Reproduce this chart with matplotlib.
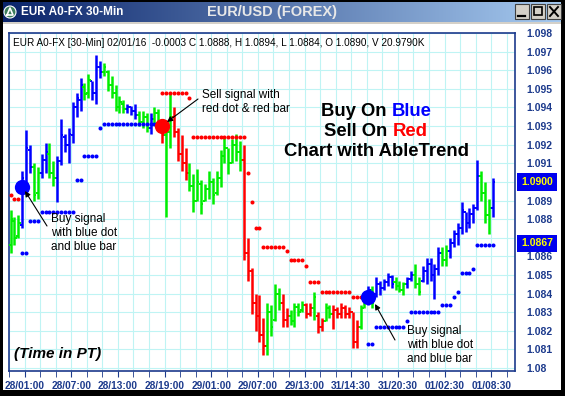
import matplotlib
matplotlib.use("Agg")
import matplotlib.pyplot as plt
import numpy as np
from matplotlib.patches import Rectangle, Circle
from matplotlib.colors import LinearSegmentedColormap
from matplotlib.transforms import blended_transform_factory

plt.rcParams['font.family'] = ['Liberation Sans', 'DejaVu Sans']

# ---- data (30-min EUR/USD bars) ----
# trend colour of each bar: g = green, b = blue, r = red
trend = ("gggbbbggbb" "ggbbbbbbbg" "gbbbgggggg" "bbbgggbggr" "ggrrrrgggg"
         "gggggggggg" "rrrrrrgggg" "rrggggrrgr" "rggrrrrrrr" "ggbgbbbbbg"
         "ggbbggbbbb" "bggbbbbbbb" "bgggb")

highs = [1.0885, 1.0881, 1.0882, 1.0906, 1.0928, 1.0920, 1.0910, 1.0908, 1.0915, 1.0921,
         1.0921, 1.0911, 1.0914, 1.0934, 1.0926, 1.0929, 1.0943, 1.0948, 1.0956, 1.0953,
         1.0958, 1.0954, 1.0968, 1.0965, 1.0964, 1.0960, 1.0957, 1.0952, 1.0946, 1.0944,
         1.0942, 1.0941, 1.0942, 1.0938, 1.0938, 1.0937, 1.0937, 1.0940, 1.0939, 1.0933,
         1.0931, 1.0948, 1.0940, 1.0929, 1.0925, 1.0918, 1.0910, 1.0904, 1.0907, 1.0901,
         1.0899, 1.0906, 1.0902, 1.0906, 1.0917, 1.0924, 1.0918, 1.0923, 1.0926, 1.0922,
         1.0920, 1.0870, 1.0854, 1.0840, 1.0839, 1.0827, 1.0835, 1.0834, 1.0845, 1.0843,
         1.0840, 1.0832, 1.0831, 1.0835, 1.0835, 1.0836, 1.0835, 1.0835, 1.0841, 1.0830,
         1.0827, 1.0835, 1.0834, 1.0834, 1.0833, 1.0835, 1.0834, 1.0833, 1.0830, 1.0826,
         1.0834, 1.0840, 1.0844, 1.0844, 1.0849, 1.0847, 1.0848, 1.0851, 1.0850, 1.0849,
         1.0847, 1.0846, 1.0849, 1.0852, 1.0856, 1.0849, 1.0855, 1.0859, 1.0859, 1.0856,
         1.0865, 1.0865, 1.0866, 1.0870, 1.0874, 1.0878, 1.0889, 1.0884, 1.0886, 1.0888,
         1.0912, 1.0906, 1.0900, 1.0891, 1.0902]
lows = [1.0862, 1.0866, 1.0870, 1.0875, 1.0894, 1.0905, 1.0890, 1.0891, 1.0902, 1.0905,
        1.0902, 1.0898, 1.0889, 1.0909, 1.0916, 1.0910, 1.0921, 1.0935, 1.0938, 1.0944,
        1.0945, 1.0944, 1.0942, 1.0956, 1.0957, 1.0949, 1.0945, 1.0938, 1.0937, 1.0937,
        1.0937, 1.0936, 1.0934, 1.0930, 1.0929, 1.0927, 1.0926, 1.0931, 1.0929, 1.0921,
        1.0881, 1.0918, 1.0924, 1.0911, 1.0906, 1.0901, 1.0895, 1.0884, 1.0890, 1.0883,
        1.0890, 1.0891, 1.0888, 1.0893, 1.0897, 1.0910, 1.0904, 1.0910, 1.0911, 1.0906,
        1.0858, 1.0847, 1.0829, 1.0820, 1.0814, 1.0807, 1.0807, 1.0817, 1.0825, 1.0831,
        1.0822, 1.0822, 1.0823, 1.0822, 1.0828, 1.0830, 1.0827, 1.0828, 1.0826, 1.0819,
        1.0820, 1.0825, 1.0827, 1.0821, 1.0827, 1.0827, 1.0827, 1.0827, 1.0811, 1.0811,
        1.0821, 1.0832, 1.0834, 1.0832, 1.0838, 1.0839, 1.0842, 1.0844, 1.0843, 1.0842,
        1.0841, 1.0839, 1.0843, 1.0847, 1.0843, 1.0839, 1.0846, 1.0845, 1.0847, 1.0837,
        1.0850, 1.0855, 1.0855, 1.0859, 1.0865, 1.0866, 1.0872, 1.0873, 1.0875, 1.0878,
        1.0885, 1.0890, 1.0878, 1.0872, 1.0881]
opens = [1.0866, 1.0879, 1.0871, 1.0877, 1.0900, 1.0917, 1.0908, 1.0894, 1.0905, 1.0912,
         1.0915, 1.0905, 1.0902, 1.0911, 1.0924, 1.0920, 1.0925, 1.0940, 1.0944, 1.0951,
         1.0948, 1.0954, 1.0948, 1.0962, 1.0959, 1.0959, 1.0952, 1.0948, 1.0940, 1.0942,
         1.0939, 1.0940, 1.0938, 1.0936, 1.0932, 1.0935, 1.0929, 1.0934, 1.0937, 1.0931,
         1.0925, 1.0927, 1.0935, 1.0927, 1.0915, 1.0910, 1.0905, 1.0898, 1.0890, 1.0899,
         1.0890, 1.0896, 1.0900, 1.0894, 1.0902, 1.0914, 1.0918, 1.0910, 1.0920, 1.0916,
         1.0912, 1.0862, 1.0852, 1.0835, 1.0828, 1.0818, 1.0812, 1.0830, 1.0826, 1.0840,
         1.0835, 1.0826, 1.0828, 1.0825, 1.0833, 1.0831, 1.0834, 1.0829, 1.0832, 1.0828,
         1.0822, 1.0825, 1.0832, 1.0829, 1.0831, 1.0829, 1.0832, 1.0829, 1.0830, 1.0814,
         1.0822, 1.0832, 1.0837, 1.0842, 1.0840, 1.0845, 1.0843, 1.0846, 1.0849, 1.0846,
         1.0844, 1.0842, 1.0845, 1.0848, 1.0850, 1.0845, 1.0847, 1.0852, 1.0856, 1.0850,
         1.0853, 1.0862, 1.0858, 1.0863, 1.0867, 1.0872, 1.0875, 1.0884, 1.0878, 1.0883,
         1.0886, 1.0903, 1.0894, 1.0882, 1.0886]
closes = [1.0880, 1.0870, 1.0878, 1.0902, 1.0918, 1.0908, 1.0893, 1.0905, 1.0912, 1.0916,
          1.0905, 1.0902, 1.0911, 1.0925, 1.0920, 1.0926, 1.0940, 1.0945, 1.0952, 1.0947,
          1.0955, 1.0948, 1.0962, 1.0959, 1.0962, 1.0952, 1.0948, 1.0940, 1.0943, 1.0939,
          1.0940, 1.0938, 1.0936, 1.0932, 1.0935, 1.0929, 1.0934, 1.0937, 1.0931, 1.0925,
          1.0927, 1.0935, 1.0927, 1.0915, 1.0910, 1.0905, 1.0898, 1.0890, 1.0900, 1.0888,
          1.0896, 1.0900, 1.0893, 1.0902, 1.0914, 1.0918, 1.0910, 1.0920, 1.0916, 1.0912,
          1.0862, 1.0852, 1.0835, 1.0828, 1.0818, 1.0812, 1.0830, 1.0822, 1.0840, 1.0835,
          1.0826, 1.0828, 1.0825, 1.0833, 1.0830, 1.0834, 1.0829, 1.0832, 1.0838, 1.0822,
          1.0825, 1.0832, 1.0829, 1.0831, 1.0829, 1.0832, 1.0829, 1.0830, 1.0814, 1.0822,
          1.0832, 1.0838, 1.0842, 1.0835, 1.0845, 1.0843, 1.0846, 1.0849, 1.0845, 1.0844,
          1.0842, 1.0845, 1.0848, 1.0850, 1.0845, 1.0841, 1.0852, 1.0856, 1.0850, 1.0853,
          1.0862, 1.0858, 1.0863, 1.0867, 1.0872, 1.0875, 1.0885, 1.0878, 1.0883, 1.0886,
          1.0903, 1.0894, 1.0882, 1.0886, 1.0900]

# trailing stop dots: runs of bars (first, last) at one level
red_first = [0, 1, 39, 46, 47, 61, 62, 63, 65, 71, 72, 76, 77, 80, 88]
red_last = [0, 2, 45, 46, 60, 61, 62, 64, 70, 71, 75, 76, 79, 87, 90]
red_level = [1.0893, 1.0891, 1.0948, 1.0945, 1.0924, 1.0905, 1.0889, 1.0875,
             1.0865, 1.0863, 1.0858, 1.0855, 1.0846, 1.0841, 1.0838]
blue_first = [3, 5, 8, 17, 19, 23, 24, 92, 94, 102, 103, 111, 114, 115, 116, 119, 120]
blue_last = [4, 7, 16, 18, 22, 23, 38, 93, 101, 102, 110, 113, 114, 115, 118, 119, 124]
blue_level = [1.0862, 1.0879, 1.0884, 1.0901, 1.0914, 1.0929, 1.0931, 1.0813, 1.0822,
              1.0825, 1.0830, 1.0834, 1.0838, 1.0841, 1.0851, 1.0853, 1.0866]

# signal dots
buy_bar = [3, 92]
buy_price = [1.0897, 1.0838]
sell_bar = [39]
sell_price = [1.0930]

yticks = [1.080, 1.081, 1.082, 1.083, 1.084, 1.085, 1.086, 1.087, 1.088, 1.089,
          1.090, 1.091, 1.092, 1.093, 1.094, 1.095, 1.096, 1.097, 1.098]
xlabels = ['28/01:00', '28/07:00', '28/13:00', '28/19:00', '29/01:00', '29/07:00',
           '29/13:00', '31/14:30', '31/20:30', '01/02:30', '01/08:30']
last_price = 1.0900
stop_price = 1.0867

header = ("EUR A0-FX [30-Min] 02/01/16  -0.0003 C 1.0888, H 1.0894, "
          "L 1.0884, O 1.0890, V 20.9790K")

W, H = 565, 396
NAVY = '#1c3a8c'
fig = plt.figure(figsize=(W / 100, H / 100), dpi=100)

# ---- window chrome, drawn in pixel coordinates ----
bg = fig.add_axes([0, 0, 1, 1])
bg.axis('off')
cmap = LinearSegmentedColormap.from_list('title', ['#0a246a', '#a6caf0'])
bg.imshow(np.linspace(0, 1, 256).reshape(1, -1), cmap=cmap, aspect='auto',
          extent=(3, 561, 22, 2))
for x0, y0, w, h in [(0, 0, 3, H), (561, 0, 4, H), (0, 390, W, 6), (0, 0, W, 2)]:
    bg.add_patch(Rectangle((x0, y0), w, h, fc='black', ec='none'))
bg.add_patch(Rectangle((3, 22), 558, 2, fc='#d4d0c8', ec='none'))

# title bar icon and buttons
bg.add_patch(Circle((10, 12), 6, fc='#3c7d5c', ec='white', lw=0.8))
bg.plot([7, 10, 13, 7], [15, 8, 15, 15], color='white', lw=1.2)
for bx in [515, 531, 547]:
    bg.add_patch(Rectangle((bx, 4), 14, 15, fc='#d4d0c8', ec='#404040', lw=0.8))
bg.plot([518, 525], [16, 16], color='black', lw=1.6)
bg.add_patch(Rectangle((534, 7), 8, 8, fc='none', ec='black', lw=1.2))
bg.plot([550, 558], [7, 16], color='black', lw=1.4)
bg.plot([550, 558], [16, 7], color='black', lw=1.4)
bg.text(21, 12, "EUR A0-FX 30-Min", color='white', fontsize=8.5, weight='bold',
        va='center')
bg.text(272, 12, "EUR/USD (FOREX)", color='#e8e8e8', fontsize=10.5, weight='bold',
        ha='center', va='center')
bg.set_xlim(0, W)
bg.set_ylim(H, 0)

# ---- price panel ----
ax = fig.add_axes([9 / W, (H - 371) / H, 506 / W, 338 / H])
ax.set_xlim(-0.41, 129.7)
ax.set_ylim(1.07984, 1.09795)

pal = {'g': '#00ee00', 'b': '#0000ff', 'r': '#ff0000'}
x = np.arange(len(highs))
cols = [pal[c] for c in trend]
ax.vlines(x, lows, highs, colors=cols, lw=1.8, zorder=3)
ax.hlines(opens, x - 0.55, x, colors=cols, lw=1.4, zorder=3)
ax.hlines(closes, x, x + 0.55, colors=cols, lw=1.4, zorder=3)

for first, last, lvl, c in [(red_first, red_last, red_level, '#ff0000'),
                            (blue_first, blue_last, blue_level, '#0000ff')]:
    for a, b, v in zip(first, last, lvl):
        xs = np.arange(a, b + 1)
        ax.plot(xs, [v] * len(xs), 'o', ms=2.9, color=c, mec='none', zorder=4)

ax.plot(buy_bar, buy_price, 'o', ms=11, color='#0000ff', mec='none', zorder=5)
ax.plot(sell_bar, sell_price, 'o', ms=11, color='#ff0000', mec='none', zorder=5)

# axes, ticks, grid
label_pos = [3.6 + 12 * k for k in range(len(xlabels))]
ax.set_xticks(label_pos)
ax.set_xticklabels(xlabels)
ax.set_xticks(np.arange(-0.4, 129.7, 4), minor=True)
ax.set_yticks(yticks)
# the boxed last / stop prices sit on top of these two levels
hidden = [round(last_price, 3), round(stop_price, 3)]
ax.set_yticklabels(['' if round(v, 3) in hidden else ('1.08' if v == 1.080 else '%.3f' % v)
                    for v in yticks])
ax.yaxis.tick_right()
ax.tick_params(axis='y', length=0, pad=8, labelsize=7.5, labelcolor=NAVY)
ax.tick_params(axis='x', which='both', direction='out', length=4, color=NAVY,
               pad=3, labelsize=7.3, labelcolor=NAVY)
for lbl in ax.get_xticklabels() + ax.get_yticklabels():
    lbl.set_fontweight('bold')
ax.grid(True, which='both', color='#bff4f4', lw=0.8, zorder=0)
ax.set_axisbelow(True)
for sp in ax.spines.values():
    sp.set_color(NAVY)
    sp.set_linewidth(1.2)

# last price / stop price boxes
trans = blended_transform_factory(ax.transAxes, ax.transData)
for v in [last_price, stop_price]:
    ax.text(1 + 22 / 506, v, '%.4f' % v, transform=trans, ha='center', va='center',
            color='#ffff00', weight='bold', fontsize=7.5, clip_on=False, zorder=10,
            bbox=dict(boxstyle='square,pad=0.35', fc='#0000ee', ec='none'))


def af(px, py):
    # pixel position in the picture -> axes fraction
    return ((px - 9) / 506, (371 - py) / 338)


ax.text(*af(13, 43), header, transform=ax.transAxes, fontsize=7.2, va='center')
ax.text(*af(14, 354), "(Time in PT)", transform=ax.transAxes, fontsize=11,
        weight='bold', style='italic', va='center')

notes = [("Sell signal with\nred dot & red bar", (202, 89), (198, 99), (167, 122)),
         ("Buy signal\nwith blue dot\nand blue bar", (51, 213), (47, 226), (25, 191)),
         ("Buy signal\nwith blue dot\nand blue bar", (407, 325), (395, 340), (375, 304))]
for txt, tpos, tail, head in notes:
    ax.text(*af(*tpos), txt, transform=ax.transAxes, fontsize=8.5, va='top',
            linespacing=1.2, zorder=6)
    ax.annotate('', xy=af(*head), xytext=af(*tail), xycoords='axes fraction',
                textcoords='axes fraction', zorder=6,
                arrowprops=dict(arrowstyle='-|>', color='black', lw=0.8,
                                mutation_scale=8, shrinkA=0, shrinkB=0))

# centred multi-colour title block
renderer = fig.canvas.get_renderer()
lines = [([("Buy On", 'black'), ("Blue", '#0000ff')], 112),
         ([("Sell On", 'black'), ("Red", '#ff0000')], 132),
         ([("Chart with AbleTrend", 'black')], 152)]
fs = 13.3
gap = fs * 100 / 72 * 0.28
for parts, py in lines:
    texts = [ax.text(0, 0, s, color=c, transform=ax.transAxes, fontsize=fs,
                     weight='bold', va='center', zorder=6) for s, c in parts]
    widths = [t.get_window_extent(renderer=renderer).width for t in texts]
    total = sum(widths) + gap * (len(texts) - 1)
    px = 376 - total / 2
    for t, w in zip(texts, widths):
        t.set_position(af(px, py))
        px += w + gap

fig.savefig('out.png', dpi=100)
